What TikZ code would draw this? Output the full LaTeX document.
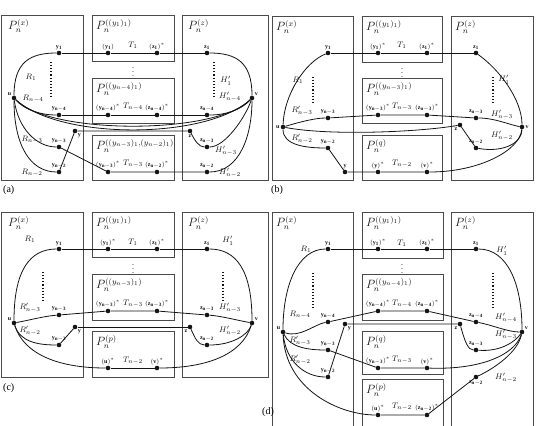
\documentclass[tikz,border=0pt]{standalone}
\usepackage{fontspec}
\setmainfont{Liberation Serif}
\usetikzlibrary{positioning}
\definecolor{Ink}{HTML}{141414}
\definecolor{Frame}{HTML}{4A4A4A}
\tikzset{
  frame/.style={draw=Frame,line width=0.9pt},
  vtx/.style={circle,fill=Ink,inner sep=0pt,minimum size=4.6pt,label distance=0.3pt},
  vlab/.style={font=\fontsize{6}{7}\selectfont,text=Ink,inner sep=0.8pt},
  plab/.style={font=\fontsize{11.5}{12}\selectfont,anchor=north west,inner sep=0pt,text=Ink},
  tlab/.style={font=\fontsize{8.5}{9}\selectfont,text=Ink,inner sep=0pt},
  vdot/.style={font=\fontsize{8}{8}\selectfont,inner sep=0pt},
  link/.style={draw=Ink,line width=0.8pt},
  guide/.style={draw=Ink,line width=1.1pt,dotted},
  tag/.style={font=\fontsize{10}{11}\selectfont,anchor=west,inner sep=0pt}
}

\begin{document}
\begin{tikzpicture}[x=1pt,y=-1pt]
  \useasboundingbox (0,0) rectangle (536,426);

  % (a)
  \draw[frame] (1,15) rectangle (83,180);
  \draw[frame] (92,15) rectangle (174,61);
  \draw[frame] (92,78) rectangle (174,123);
  \draw[frame] (92,135) rectangle (174,180);
  \draw[frame] (182,15) rectangle (268,180);
  \node[plab] (a-Px) at (8,19) {$P_n^{(x)}$};
  \node[plab] (a-P1) at (96,19) {$P_n^{((y_1)_1)}$};
  \node[plab] (a-P4) at (96,82) {$P_n^{((y_{n-4})_1)}$};
  \node[plab] (a-P3) at (96,139) {$P_n^{((y_{n-3})_1,(y_{n-2})_1)}$};
  \node[plab] (a-Pz) at (188,19) {$P_n^{(z)}$};
  \node[vtx,label={[vlab]above:$\mathbf{y_1}$}] (a-y1) at (59,53) {};
  \node[vtx,label={[vlab]above:$(\mathbf{y_1})$}] (a-ys1) at (108,53) {};
  \node[vtx,label={[vlab]above:$(\mathbf{z_1})^*$}] (a-zs1) at (157,53) {};
  \node[vtx,label={[vlab]above:$\mathbf{z_1}$}] (a-z1) at (207,53) {};
  \node[vtx,label={[vlab]above left:$\mathbf{u}$}] (a-u) at (14,98) {};
  \node[vtx,label={[vlab]above right:$\mathbf{v}$}] (a-v) at (252,98) {};
  \node[vtx,label={[vlab]above:$\mathbf{y_{n-4}}$}] (a-y4) at (59,115) {};
  \node[vtx,label={[vlab]above:$(\mathbf{y_{n-4}})^*$}] (a-ys4) at (108,115) {};
  \node[vtx,label={[vlab]above:$(\mathbf{z_{n-4}})^*$}] (a-zs4) at (157,115) {};
  \node[vtx,label={[vlab]above:$\mathbf{z_{n-4}}$}] (a-z4) at (207,115) {};
  \node[vtx,label={[vlab]below right:$\mathbf{y}$}] (a-y) at (75,131) {};
  \node[vtx,label={[vlab]below:$\mathbf{z}$}] (a-z) at (190,131) {};
  \node[vtx,label={[vlab]above:$\mathbf{y_{n-3}}$}] (a-y3) at (59,147) {};
  \node[vtx,label={[vlab]above:$\mathbf{z_{n-3}}$}] (a-z3) at (207,147) {};
  \node[vtx,label={[vlab]above:$\mathbf{y_{n-2}}$}] (a-y2) at (59,172) {};
  \node[vtx,label={[vlab]above:$(\mathbf{y_{n-3}})^*$}] (a-ys3) at (108,172) {};
  \node[vtx,label={[vlab]above:$(\mathbf{z_{n-2}})^*$}] (a-zs2) at (157,172) {};
  \node[vtx,label={[vlab]above:$\mathbf{z_{n-2}}$}] (a-z2) at (207,172) {};
  \node[tlab] (a-T1) at (133,45) {$T_1$};
  \node[tlab] (a-T4) at (133,107) {$T_{n-4}$};
  \node[tlab] (a-T3) at (133,164) {$T_{n-3}$};
  \node[tlab] (a-R1) at (31,77) {$R_1$};
  \node[tlab] (a-R4) at (33,99) {$R_{n-4}$};
  \node[tlab] (a-R3) at (32,140) {$R_{n-3}$};
  \node[tlab] (a-R2) at (32,173) {$R_{n-2}$};
  \node[tlab] (a-H1) at (226,81) {$H'_1$};
  \node[tlab] (a-H4) at (230,97) {$H'_{n-4}$};
  \node[tlab] (a-H3) at (226,151) {$H'_{n-3}$};
  \node[tlab] (a-H2) at (230,173) {$H'_{n-2}$};
  \node[vdot] (a-dots) at (133,69) {$\vdots$};
  \draw[guide] (51,62) -- (51,99);
  \draw[guide] (214,62) -- (214,99);
  \draw[link] (a-y1) -- (a-ys1) -- (a-zs1) -- (a-z1);
  \draw[link] (a-u) .. controls (14,62) and (30,53) .. (a-y1);
  \draw[link] (a-z1) .. controls (236,53) and (252,62) .. (a-v);
  \draw[link] (a-y4) -- (a-ys4) -- (a-zs4) -- (a-z4);
  \draw[link] (a-u) .. controls (25,110) and (40,115) .. (a-y4);
  \draw[link] (a-z4) .. controls (226,115) and (241,110) .. (a-v);
  \draw[link] (a-u) .. controls (50,135) and (216,135) .. (a-v);
  \draw[link] (a-u) .. controls (60,140) and (206,140) .. (a-v);
  \draw[link] (a-u) .. controls (18,128) and (36,147) .. (a-y3);
  \draw[link] (a-u) .. controls (14,145) and (30,172) .. (a-y2);
  \draw[link] (a-y2) -- (a-y) -- (a-z);
  \draw[link] (a-y3) -- (a-ys3) -- (a-zs2) -- (a-z2);
  \draw[link] (a-z) .. controls (195,141) and (199,147) .. (a-z3);
  \draw[link] (a-z3) .. controls (225,147) and (245,118) .. (a-v);
  \draw[link] (a-z2) .. controls (240,172) and (252,135) .. (a-v);
  \node[tag] (a-tag) at (3,190) {(a)};

  % (b)
  \draw[frame] (272,16) rectangle (353,180);
  \draw[frame] (362,16) rectangle (442,62);
  \draw[frame] (362,78) rectangle (442,123);
  \draw[frame] (362,135) rectangle (442,180);
  \draw[frame] (451,16) rectangle (533,180);
  \node[plab] (b-Px) at (276,20) {$P_n^{(x)}$};
  \node[plab] (b-P1) at (366,20) {$P_n^{((y_1)_1)}$};
  \node[plab] (b-P3) at (366,82) {$P_n^{((y_{n-3})_1)}$};
  \node[plab] (b-Pq) at (366,139) {$P_n^{(q)}$};
  \node[plab] (b-Pz) at (455,20) {$P_n^{(z)}$};
  \node[vtx,label={[vlab]above:$\mathbf{y_1}$}] (b-y1) at (328,53) {};
  \node[vtx,label={[vlab]above:$(\mathbf{y_1})^*$}] (b-ys1) at (378,53) {};
  \node[vtx,label={[vlab]above:$(\mathbf{z_1})^*$}] (b-zs1) at (427,53) {};
  \node[vtx,label={[vlab]above:$\mathbf{z_1}$}] (b-z1) at (476,53) {};
  \node[vtx,label={[vlab]left:$\mathbf{u}$}] (b-u) at (283,127) {};
  \node[vtx,label={[vlab]right:$\mathbf{v}$}] (b-v) at (522,127) {};
  \node[vtx,label={[vlab]above:$\mathbf{y_{n-3}}$}] (b-y3) at (328,118) {};
  \node[vtx,label={[vlab]above:$(\mathbf{y_{n-3}})^*$}] (b-ys3) at (378,115) {};
  \node[vtx,label={[vlab]above:$(\mathbf{z_{n-3}})^*$}] (b-zs3) at (427,115) {};
  \node[vtx,label={[vlab]above:$\mathbf{z_{n-3}}$}] (b-z3) at (476,118) {};
  \node[vtx,label={[vlab]below left:$\mathbf{z}$}] (b-z) at (460,125) {};
  \node[vtx,label={[vlab]above:$\mathbf{y_{n-2}}$}] (b-y2) at (328,148) {};
  \node[vtx,label={[vlab]above:$\mathbf{z_{n-2}}$}] (b-z2) at (476,148) {};
  \node[vtx,label={[vlab]above:$\mathbf{y}$}] (b-y) at (345,172) {};
  \node[vtx,label={[vlab]above:$(\mathbf{y})^*$}] (b-ys) at (378,172) {};
  \node[vtx,label={[vlab]above:$(\mathbf{v})^*$}] (b-vs) at (427,172) {};
  \node[tlab] (b-T1) at (402,45) {$T_1$};
  \node[tlab] (b-T3) at (402,107) {$T_{n-3}$};
  \node[tlab] (b-T2) at (402,164) {$T_{n-2}$};
  \node[tlab] (b-R1) at (298,80) {$R_1$};
  \node[tlab] (b-R3) at (302,111) {$R'_{n-3}$};
  \node[tlab] (b-R2) at (302,139) {$R'_{n-2}$};
  \node[tlab] (b-H1) at (504,80) {$H'_1$};
  \node[tlab] (b-H3) at (502,115) {$H'_{n-3}$};
  \node[tlab] (b-H2) at (502,136) {$H'_{n-2}$};
  \node[vdot] (b-dots) at (402,70) {$\vdots$};
  \draw[guide] (313,77) -- (313,102);
  \draw[guide] (493,77) -- (493,102);
  \draw[link] (b-y1) -- (b-ys1) -- (b-zs1) -- (b-z1);
  \draw[link] (b-u) .. controls (284,95) and (305,62) .. (b-y1);
  \draw[link] (b-z1) .. controls (500,70) and (522,100) .. (b-v);
  \draw[link] (b-u) .. controls (300,122) and (315,118) .. (b-y3);
  \draw[link] (b-y3) -- (b-ys3) -- (b-zs3) -- (b-z3);
  \draw[link] (b-z3) .. controls (495,118) and (510,125) .. (b-v);
  \draw[link] (b-u) .. controls (330,136) and (420,132) .. (b-z);
  \draw[link] (b-z) -- (b-z2);
  \draw[link] (b-z2) .. controls (505,153) and (522,142) .. (b-v);
  \draw[link] (b-u) .. controls (283,145) and (305,148) .. (b-y2);
  \draw[link] (b-y2) -- (b-y) -- (b-ys) -- (b-vs);
  \draw[link] (b-vs) .. controls (480,172) and (520,150) .. (b-v);
  \node[tag] (b-tag) at (271,190) {(b)};

  % (c)
  \draw[frame] (1,212) rectangle (83,377);
  \draw[frame] (92,212) rectangle (174,257);
  \draw[frame] (92,274) rectangle (174,320);
  \draw[frame] (92,331) rectangle (174,377);
  \draw[frame] (182,212) rectangle (268,377);
  \node[plab] (c-Px) at (8,216) {$P_n^{(x)}$};
  \node[plab] (c-P1) at (96,216) {$P_n^{((y_1)_1)}$};
  \node[plab] (c-P3) at (96,278) {$P_n^{((y_{n-3})_1)}$};
  \node[plab] (c-Pp) at (96,335) {$P_n^{(p)}$};
  \node[plab] (c-Pz) at (188,216) {$P_n^{(z)}$};
  \node[vtx,label={[vlab]above:$\mathbf{y_1}$}] (c-y1) at (59,249) {};
  \node[vtx,label={[vlab]above:$(\mathbf{y_1})^*$}] (c-ys1) at (108,249) {};
  \node[vtx,label={[vlab]above:$(\mathbf{z_1})^*$}] (c-zs1) at (157,249) {};
  \node[vtx,label={[vlab]above:$\mathbf{z_1}$}] (c-z1) at (207,249) {};
  \node[vtx,label={[vlab]above left:$\mathbf{u}$}] (c-u) at (14,323) {};
  \node[vtx,label={[vlab]above right:$\mathbf{v}$}] (c-v) at (252,323) {};
  \node[vtx,label={[vlab]above:$\mathbf{y_{n-3}}$}] (c-y3) at (59,315) {};
  \node[vtx,label={[vlab]above:$(\mathbf{y_{n-3}})^*$}] (c-ys3) at (108,311) {};
  \node[vtx,label={[vlab]above:$(\mathbf{z_{n-3}})^*$}] (c-zs3) at (157,311) {};
  \node[vtx,label={[vlab]above:$\mathbf{z_{n-3}}$}] (c-z3) at (207,315) {};
  \node[vtx,label={[vlab]below right:$\mathbf{y}$}] (c-y) at (75,327) {};
  \node[vtx,label={[vlab]below left:$\mathbf{z}$}] (c-z) at (190,327) {};
  \node[vtx,label={[vlab]above:$\mathbf{y_{n-2}}$}] (c-y2) at (59,345) {};
  \node[vtx,label={[vlab]above:$\mathbf{z_{n-2}}$}] (c-z2) at (207,345) {};
  \node[vtx,label={[vlab]above:$(\mathbf{u})^*$}] (c-us) at (108,368) {};
  \node[vtx,label={[vlab]above:$(\mathbf{v})^*$}] (c-vs) at (157,368) {};
  \node[tlab] (c-T1) at (133,242) {$T_1$};
  \node[tlab] (c-T3) at (133,304) {$T_{n-3}$};
  \node[tlab] (c-T2) at (133,361) {$T_{n-2}$};
  \node[tlab] (c-R1) at (30,239) {$R_1$};
  \node[tlab] (c-R3) at (30,308) {$R'_{n-3}$};
  \node[tlab] (c-R2) at (30,331) {$R'_{n-2}$};
  \node[tlab] (c-H1) at (228,241) {$H'_1$};
  \node[tlab] (c-H3) at (230,308) {$H'_{n-3}$};
  \node[tlab] (c-H2) at (230,331) {$H'_{n-2}$};
  \node[vdot] (c-dots) at (133,266) {$\vdots$};
  \draw[guide] (43,272) -- (43,300);
  \draw[guide] (223,272) -- (223,300);
  \draw[link] (c-y1) -- (c-ys1) -- (c-zs1) -- (c-z1);
  \draw[link] (c-u) .. controls (14,270) and (30,249) .. (c-y1);
  \draw[link] (c-z1) .. controls (236,249) and (252,270) .. (c-v);
  \draw[link] (c-u) .. controls (30,320) and (45,316) .. (c-y3);
  \draw[link] (c-y3) -- (c-ys3) -- (c-zs3) -- (c-z3);
  \draw[link] (c-z3) .. controls (221,316) and (236,320) .. (c-v);
  \draw[link] (c-y) -- (c-z);
  \draw[link] (c-u) .. controls (20,342) and (38,345) .. (c-y2);
  \draw[link] (c-y2) -- (c-y);
  \draw[link] (c-z) .. controls (195,338) and (198,345) .. (c-z2);
  \draw[link] (c-z2) .. controls (232,345) and (248,335) .. (c-v);
  \draw[link] (c-u) .. controls (24,355) and (60,368) .. (c-us);
  \draw[link] (c-us) -- (c-vs);
  \draw[link] (c-vs) .. controls (206,368) and (242,355) .. (c-v);
  \node[tag] (c-tag) at (3,388) {(c)};

  % (d)
  \draw[frame] (272,212) rectangle (353,430);
  \draw[frame] (362,212) rectangle (443,258);
  \draw[frame] (362,274) rectangle (443,320);
  \draw[frame] (362,331) rectangle (443,374);
  \draw[frame] (362,379) rectangle (443,430);
  \draw[frame] (451,212) rectangle (533,430);
  \node[plab] (d-Px) at (276,216) {$P_n^{(x)}$};
  \node[plab] (d-P1) at (366,216) {$P_n^{((y_1)_1)}$};
  \node[plab] (d-P4) at (366,278) {$P_n^{((y_{n-4})_1)}$};
  \node[plab] (d-Pq) at (366,335) {$P_n^{(q)}$};
  \node[plab] (d-Pp) at (366,383) {$P_n^{(p)}$};
  \node[plab] (d-Pz) at (455,216) {$P_n^{(z)}$};
  \node[vtx,label={[vlab]above:$\mathbf{y_1}$}] (d-y1) at (328,249) {};
  \node[vtx,label={[vlab]above:$(\mathbf{y_1})^*$}] (d-ys1) at (378,249) {};
  \node[vtx,label={[vlab]above:$(\mathbf{z_1})^*$}] (d-zs1) at (427,249) {};
  \node[vtx,label={[vlab]above:$\mathbf{z_1}$}] (d-z1) at (476,249) {};
  \node[vtx,label={[vlab]above left:$\mathbf{u}$}] (d-u) at (283,332) {};
  \node[vtx,label={[vlab]above right:$\mathbf{v}$}] (d-v) at (522,332) {};
  \node[vtx,label={[vlab]above:$\mathbf{y_{n-4}}$}] (d-y4) at (328,322) {};
  \node[vtx,label={[vlab]above:$(\mathbf{y_{n-4}})^*$}] (d-ys4) at (378,311) {};
  \node[vtx,label={[vlab]above:$(\mathbf{z_{n-4}})^*$}] (d-zs4) at (427,311) {};
  \node[vtx,label={[vlab]above:$\mathbf{z_{n-4}}$}] (d-z4) at (476,322) {};
  \node[vtx,label={[vlab]below right:$\mathbf{y}$}] (d-y) at (345,324) {};
  \node[vtx,label={[vlab]below left:$\mathbf{z}$}] (d-z) at (460,324) {};
  \node[vtx,label={[vlab]above:$\mathbf{y_{n-3}}$}] (d-y3) at (328,350) {};
  \node[vtx,label={[vlab]above:$\mathbf{z_{n-3}}$}] (d-z3) at (476,350) {};
  \node[vtx,label={[vlab]above:$(\mathbf{y_{n-3}})^*$}] (d-ys3) at (378,368) {};
  \node[vtx,label={[vlab]above:$(\mathbf{v})^*$}] (d-vs) at (427,368) {};
  \node[vtx,label={[vlab]above:$\mathbf{y_{n-2}}$}] (d-y2) at (328,377) {};
  \node[vtx,label={[vlab]below:$\mathbf{z_{n-2}}$}] (d-z2) at (476,377) {};
  \node[vtx,label={[vlab]above:$(\mathbf{u})^*$}] (d-us) at (378,415) {};
  \node[vtx,label={[vlab]above:$(\mathbf{z_{n-2}})^*$}] (d-zs2) at (427,415) {};
  \node[tlab] (d-T1) at (402,243) {$T_1$};
  \node[tlab] (d-T4) at (402,304) {$T_{n-4}$};
  \node[tlab] (d-T3) at (402,360) {$T_{n-3}$};
  \node[tlab] (d-T2) at (402,407) {$T_{n-2}$};
  \node[tlab] (d-R1) at (306,249) {$R_1$};
  \node[tlab] (d-R4) at (300,315) {$R_{n-4}$};
  \node[tlab] (d-R3) at (300,341) {$R'_{n-3}$};
  \node[tlab] (d-R2) at (300,360) {$R'_{n-2}$};
  \node[tlab] (d-H1) at (502,251) {$H'_1$};
  \node[tlab] (d-H4) at (506,318) {$H'_{n-4}$};
  \node[tlab] (d-H3) at (506,335) {$H'_{n-3}$};
  \node[tlab] (d-H2) at (506,378) {$H'_{n-2}$};
  \node[vdot] (d-dots) at (402,266) {$\vdots$};
  \draw[guide] (313,273) -- (313,310);
  \draw[guide] (493,273) -- (493,310);
  \draw[link] (d-y1) -- (d-ys1) -- (d-zs1) -- (d-z1);
  \draw[link] (d-u) .. controls (283,285) and (298,249) .. (d-y1);
  \draw[link] (d-z1) .. controls (508,249) and (522,285) .. (d-v);
  \draw[link] (d-u) .. controls (300,338) and (315,324) .. (d-y4);
  \draw[link] (d-y4) -- (d-ys4) -- (d-zs4) -- (d-z4);
  \draw[link] (d-z4) .. controls (492,325) and (508,332) .. (d-v);
  \draw[link] (d-y2) -- (d-y) -- (d-z);
  \draw[link] (d-z) .. controls (465,342) and (468,350) .. (d-z3);
  \draw[link] (d-z3) .. controls (500,352) and (515,342) .. (d-v);
  \draw[link] (d-u) .. controls (290,348) and (310,350) .. (d-y3);
  \draw[link] (d-y3) -- (d-ys3) -- (d-vs);
  \draw[link] (d-vs) .. controls (480,370) and (515,355) .. (d-v);
  \draw[link] (d-u) .. controls (286,362) and (305,377) .. (d-y2);
  \draw[link] (d-u) .. controls (285,390) and (340,415) .. (d-us);
  \draw[link] (d-us) -- (d-zs2) -- (d-z2);
  \draw[link] (d-z2) .. controls (495,368) and (518,352) .. (d-v);
  \node[tag] (d-tag) at (262,412) {(d)};
\end{tikzpicture}
\end{document}
